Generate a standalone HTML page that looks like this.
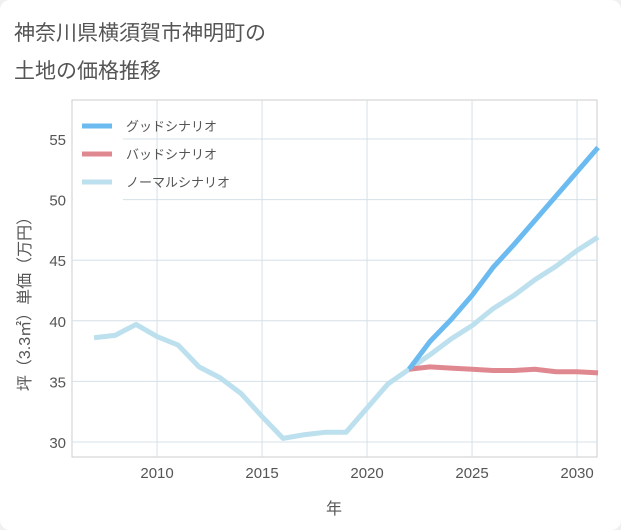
<!DOCTYPE html>
<html><head><meta charset="utf-8"><style>
body{margin:0;background:#f0f0f0;font-family:"Liberation Sans","Noto Sans CJK JP",sans-serif;}
#card{position:absolute;left:0;top:0;width:621px;height:530px;background:#fff;border-radius:10px;}
</style></head><body>
<div id="card">
<svg id="chart" width="621" height="530" style="position:absolute;left:0;top:0">
<text x="14" y="40" font-size="21" fill="#555">神奈川県横須賀市神明町の</text>
<text x="14" y="78" font-size="21" fill="#555">土地の価格推移</text>
<rect x="72" y="100" width="525" height="357" fill="#fff" stroke="#ccc"/>
<g id="grid"></g><g id="series"></g><g id="axes"></g>
<text x="334" y="514" font-size="16" fill="#555" text-anchor="middle">年</text>
<text transform="translate(30,300) rotate(-90)" font-size="16" fill="#555" text-anchor="middle">坪（3.3㎡）単価（万円）</text>
<g>
<rect x="73" y="108" width="50" height="96" fill="#fff"/>
<line x1="82" y1="126" x2="112" y2="126" stroke="#6cbbf0" stroke-width="5"/>
<text x="126" y="131" font-size="13" fill="#555">グッドシナリオ</text>
<line x1="82" y1="154" x2="112" y2="154" stroke="#e08890" stroke-width="5"/>
<text x="126" y="159" font-size="13" fill="#555">バッドシナリオ</text>
<line x1="82" y1="182" x2="112" y2="182" stroke="#bde0ee" stroke-width="5"/>
<text x="126" y="187" font-size="13" fill="#555">ノーマルシナリオ</text>
</g>
</svg></div>
<script>
const xTicks=[2010,2015,2020,2025,2030];
const yTicks=[30,35,40,45,50,55];
const normalYears=[2007,2008,2009,2010,2011,2012,2013,2014,2015,2016,2017,2018,2019,2020,2021,2022,2023,2024,2025,2026,2027,2028,2029,2030,2031];
const normalValues=[38.6,38.8,39.7,38.7,38.0,36.2,35.3,34.0,32.1,30.3,30.6,30.8,30.8,32.8,34.8,36.0,37.2,38.5,39.6,41.0,42.1,43.4,44.5,45.8,46.9];
const scenarioYears=[2022,2023,2024,2025,2026,2027,2028,2029,2030,2031];
const goodValues=[36.0,38.3,40.1,42.1,44.4,46.3,48.3,50.3,52.3,54.3];
const badValues=[36.0,36.2,36.1,36.0,35.9,35.9,36.0,35.8,35.8,35.7];
const NS='http://www.w3.org/2000/svg';
const xs=y=>72+(y-2005.95)*21;
const ys=v=>442-(v-30)*12.12;
function mk(t,a,p){const e=document.createElementNS(NS,t);for(const k in a)e.setAttribute(k,a[k]);p.appendChild(e);return e;}
const grid=document.getElementById('grid'),axes=document.getElementById('axes'),ser=document.getElementById('series');
xTicks.forEach(t=>{
const l=mk('line',{x1:xs(t),x2:xs(t),y1:100,y2:457,stroke:'#d5e0e8'},grid);


const tx=mk('text',{x:xs(t),y:478,'font-size':15,fill:'#555','text-anchor':'middle'},axes);tx.textContent=t;


});
yTicks.forEach(t=>{
const l=mk('line',{x1:72,x2:597,y1:ys(t),y2:ys(t),stroke:'#d5e0e8'},grid);


const tx=mk('text',{x:66,y:ys(t)+6,'font-size':15,fill:'#555','text-anchor':'end'},axes);tx.textContent=t;


});
function line(yrs,vals,col,name){
const p=mk('polyline',{points:yrs.map((y,i)=>xs(y)+','+ys(vals[i])).join(' '),fill:'none',stroke:col,'stroke-width':5,'stroke-linejoin':'round'},ser);


}
line(normalYears,normalValues,'#bde0ee','normal-scenario-line');
line(scenarioYears,badValues,'#e08890','bad-scenario-line');
line(scenarioYears,goodValues,'#6cbbf0','good-scenario-line');
</script>
</body></html>
